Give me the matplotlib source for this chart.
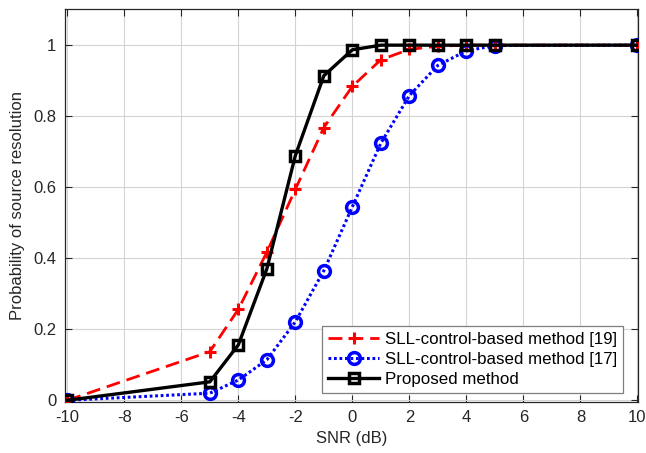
import matplotlib
matplotlib.use("Agg")
import matplotlib.pyplot as plt
from matplotlib.ticker import FuncFormatter

plt.rcParams['font.family'] = ['Liberation Sans', 'DejaVu Sans']
plt.rcParams['axes.unicode_minus'] = False

snr = [-10, -5, -4, -3, -2, -1, 0, 1, 2, 3, 4, 5, 10]
p_ref19 = [0.0, 0.137, 0.256, 0.417, 0.594, 0.768, 0.884, 0.959, 0.988, 0.997, 1.0, 1.0, 1.0]
p_ref17 = [0.0, 0.020, 0.057, 0.114, 0.221, 0.365, 0.545, 0.724, 0.858, 0.943, 0.984, 0.999, 1.0]
p_prop = [0.0, 0.052, 0.156, 0.370, 0.689, 0.914, 0.987, 1.0, 1.0, 1.0, 1.0, 1.0, 1.0]

labels = ['SLL-control-based method [19]', 'SLL-control-based method [17]', 'Proposed method']

xticks = list(range(-10, 11, 2))
yticks = [0, 0.2, 0.4, 0.6, 0.8, 1.0]

fig = plt.figure(figsize=(6.46, 4.53), dpi=100)
ax = fig.add_axes([0.1002, 0.1132, 0.8878, 0.8663])

ax.plot(snr, p_ref19, color='red', lw=2, dashes=(5, 2.5), marker='+',
        ms=9, mew=2.2, label=labels[0], zorder=3)
ax.plot(snr, p_ref17, color='blue', lw=2.2, dashes=(0.9, 0.9), marker='o',
        ms=8.5, mew=2.5, mfc='none', label=labels[1], zorder=4)
ax.plot(snr, p_prop, color='black', lw=2.4, marker='s', ms=7, mew=2.5,
        mfc='none', label=labels[2], zorder=5)

ax.set_xlim(-10.09, 10.03)
ax.set_ylim(-0.004, 1.101)
ax.set_xticks(xticks)
ax.set_yticks(yticks)
ax.yaxis.set_major_formatter(FuncFormatter(lambda v, _: f"{v:g}"))

ax.grid(True, color='#d4d4d4', lw=0.8)
ax.set_axisbelow(True)
ax.tick_params(direction='in', length=5, width=0.8, top=True, right=True,
               labelsize=12, colors='#262626', pad=6)
for s in ax.spines.values():
    s.set_color('#262626')
    s.set_linewidth(0.9)

ax.set_xlabel('SNR (dB)', fontsize=12, color='#262626', labelpad=4)
ax.set_ylabel('Probability of source resolution', fontsize=12, color='#262626', labelpad=6)

leg = ax.legend(loc='lower right', bbox_to_anchor=(0.974, 0.023), fontsize=12.2,
                fancybox=False, framealpha=1, edgecolor='#7f7f7f',
                borderpad=0.35, labelspacing=0.28, handlelength=3.0,
                handletextpad=0.35, borderaxespad=0)
leg.get_frame().set_linewidth(0.9)

fig.savefig('out.png', dpi=100)
